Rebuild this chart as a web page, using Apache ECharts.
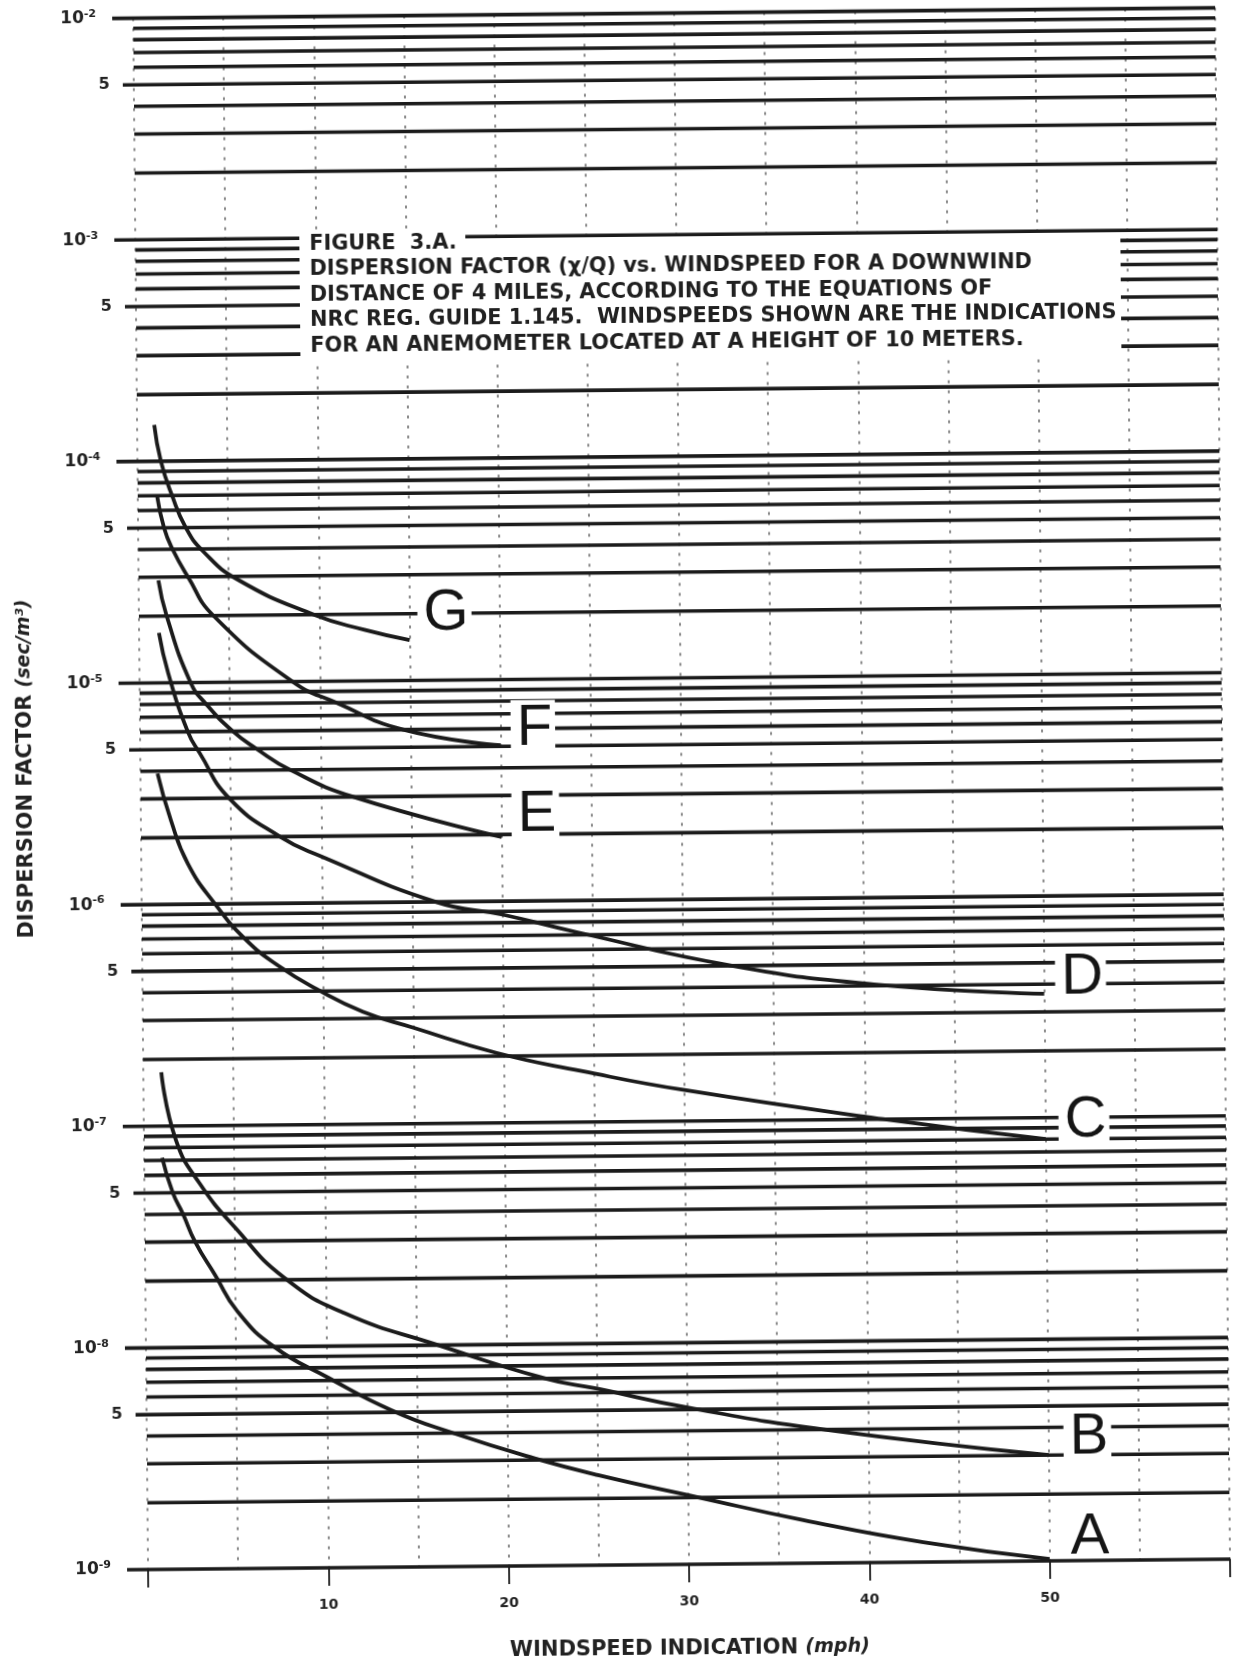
<!DOCTYPE html>
<html>
<head>
<meta charset="utf-8">
<title>Figure 3.A - Dispersion factor vs windspeed</title>
<script src="https://cdn.jsdelivr.net/npm/echarts/dist/echarts.min.js"></script>
<style>
html, body { margin: 0; padding: 0; background: #ffffff; overflow: hidden; }
#chart { width: 1233px; height: 1662px; transform: rotate(-0.55deg); transform-origin: 616.5px 831px; }
</style>
</head>
<body>
<div id="chart"></div>
<script>
// ---------------- data ----------------
const curveNames = ['A', 'B', 'C', 'D', 'E', 'F', 'G'];

const speedA = [1.0, 1.57, 2.13, 2.78, 3.9, 5.09, 7.1, 10.1, 13.6, 17.0, 21.5, 25.0, 30.6, 36.3, 43.0, 50.0];
const chiA   = [7.2e-8, 5.0e-8, 4.0e-8, 3.0e-8, 2.1e-8, 1.45e-8, 1.0e-8, 7.2e-9, 5.1e-9, 4.0e-9, 3.05e-9, 2.55e-9, 2.0e-9, 1.57e-9, 1.23e-9, 1.02e-9];

const speedB = [1.0, 1.76, 3.06, 5.09, 7.69, 11.0, 16.2, 22.1, 25.0, 30.0, 37.6, 50.0];
const chiB   = [1.75e-7, 8.7e-8, 5.5e-8, 3.4e-8, 2.05e-8, 1.41e-8, 1.0e-8, 7.0e-9, 6.26e-9, 5.1e-9, 4.0e-9, 3.0e-9];

const speedC = [0.95, 1.67, 2.59, 4.07, 5.74, 7.59, 9.63, 12.2, 15.0, 19.6, 24.3, 30.0, 41.0, 50.0];
const chiC   = [3.9e-6, 2.39e-6, 1.52e-6, 1.0e-6, 6.9e-7, 5.2e-7, 4.1e-7, 3.22e-7, 2.71e-7, 2.07e-7, 1.7e-7, 1.38e-7, 1.0e-7, 8.0e-8];

const speedD = [1.1, 1.6, 2.65, 3.3, 4.9, 7.7, 10.0, 16.3, 20.0, 24.1, 32.7, 40.7, 50.0];
const chiD   = [1.68e-5, 1.1e-5, 6.0e-6, 4.8e-6, 3.0e-6, 2.0e-6, 1.62e-6, 1.0e-6, 8.7e-7, 7.2e-7, 5.0e-7, 4.05e-7, 3.62e-7];

const speedE = [1.1, 1.54, 2.83, 3.67, 5.15, 6.44, 8.3, 11.8, 20.0];
const chiE   = [2.9e-5, 2.0e-5, 1.0e-5, 8.0e-6, 6.0e-6, 5.0e-6, 4.0e-6, 3.0e-6, 1.95e-6];

const speedF = [1.07, 1.44, 1.9, 2.74, 4.13, 8.48, 10.9, 14.6, 20.0];
const chiF   = [7.0e-5, 5.0e-5, 4.0e-5, 3.0e-5, 2.0e-5, 1.0e-5, 8.0e-6, 6.0e-6, 5.05e-6];

const speedG = [0.95, 1.3, 1.9, 2.65, 3.6, 5.5, 9.7, 12.5, 15.0];
const chiG   = [1.46e-4, 1.0e-4, 7.0e-5, 5.0e-5, 3.9e-5, 2.9e-5, 2.0e-5, 1.7e-5, 1.52e-5];

// axis structure
const xMin = 0, xMax = 60;
const yMin = 1e-9, yMax = 1e-2;
const decadeExps = [-9, -8, -7, -6, -5, -4, -3, -2];
const gridMultipliers = [1, 2, 3, 4, 5, 6, 7, 8, 9];
const xTickLabels = [10, 20, 30, 40, 50];

const titleLines = [
  'FIGURE  3.A.',
  'DISPERSION FACTOR (\u03C7/Q) vs. WINDSPEED FOR A DOWNWIND',
  'DISTANCE OF 4 MILES, ACCORDING TO THE EQUATIONS OF',
  'NRC REG. GUIDE 1.145.  WINDSPEEDS SHOWN ARE THE INDICATIONS',
  'FOR AN ANEMOMETER LOCATED AT A HEIGHT OF 10 METERS.'
];

// ---------------- build ----------------
const speeds = { A: speedA, B: speedB, C: speedC, D: speedD, E: speedE, F: speedF, G: speedG };
const chis   = { A: chiA, B: chiB, C: chiC, D: chiD, E: chiE, F: chiF, G: chiG };

const gridData = [];
decadeExps.forEach(function (e) {
  gridMultipliers.forEach(function (m) {
    if (e === -2 && m > 1) return;
    gridData.push([xMin, Number((m * Math.pow(10, e)).toPrecision(3)), m]);
  });
});

// label styling per curve (offsets relative to the curve end)
const labelStyle = {
  A: { offset: [7, -21], padding: [0, 3, 0, 6], bg: 'transparent' },
  B: { offset: [7, -17], padding: [0, 3, 0, 6], bg: '#ffffff' },
  C: { offset: [5, -18], padding: [0, 3, 0, 6], bg: '#ffffff' },
  D: { offset: [3, -16], padding: [0, 3, 0, 6], bg: '#ffffff' },
  E: { offset: [2, -22], padding: [0, 3, 0, 6], bg: '#ffffff' },
  F: { offset: [2, -16], padding: [12, 3, 0, 6], bg: '#ffffff' },
  G: { offset: [0, -26], padding: [0, 3, 0, 6], bg: '#ffffff' }
};

const INK = '#1b1b1b';

const lineSeries = curveNames.map(function (n) {
  const data = speeds[n].map(function (x, i) { return [x, chis[n][i]]; });
  return {
    type: 'line',
    name: n,
    data: data,
    xAxisIndex: 0,
    yAxisIndex: 0,
    smooth: 0.5,
    symbol: 'none',
    z: 5,
    lineStyle: { color: INK, width: 3.8 },
    endLabel: {
      show: true,
      formatter: '{a}',
      color: '#151515',
      fontFamily: 'Liberation Sans',
      fontSize: 58,
      lineHeight: 46,
      fontWeight: 'normal',
      backgroundColor: labelStyle[n].bg,
      padding: labelStyle[n].padding,
      offset: labelStyle[n].offset,
      distance: 8
    }
  };
});

const gridSeries = {
  type: 'custom',
  name: 'grid',
  coordinateSystem: 'cartesian2d',
  xAxisIndex: 0,
  yAxisIndex: 0,
  clip: false,
  silent: true,
  z: 1,
  encode: { x: 0, y: 1 },
  data: gridData,
  renderItem: function (params, api) {
    const v = api.value(1);
    const m = api.value(2);
    const p0 = api.coord([xMin, v]);
    const p1 = api.coord([xMax, v]);
    const ext = m === 1 ? 21 : (m === 5 ? 11 : 0);
    const children = [{
      type: 'line',
      shape: { x1: p0[0] - ext, y1: p0[1], x2: p1[0], y2: p1[1] },
      style: { stroke: INK, lineWidth: 3.6 }
    }];
    if (m === 5) {
      children.push({
        type: 'text',
        style: {
          text: '5', x: p0[0] - 24, y: p0[1],
          align: 'right', verticalAlign: 'middle',
          font: 'bold 16px "DejaVu Sans"', fill: '#222'
        }
      });
    }
    return { type: 'group', children: children };
  }
};

const textFont = 'bold 20.8px "DejaVu Sans"';
const graphicEls = [
  { type: 'rect', z: 50, shape: { x: 305, y: 230, width: 166, height: 11 }, style: { fill: '#ffffff' } },
  { type: 'rect', z: 50, shape: { x: 305, y: 241, width: 821, height: 116 }, style: { fill: '#ffffff' } }
];
const lineCenters = [241.5, 267, 292.5, 318, 343.5];
titleLines.forEach(function (t, i) {
  graphicEls.push({
    type: 'text', z: 51, x: 315, y: lineCenters[i],
    style: { text: t, font: textFont, fill: '#202020', verticalAlign: 'middle', align: 'left' }
  });
});

const option = {
  animation: false,
  backgroundColor: '#ffffff',
  grid: { left: 141, right: 10, top: 13.6, bottom: 97, containLabel: false, outerBoundsMode: 'none' },
  xAxis: [
    {
      type: 'value', min: xMin, max: xMax, interval: 5, position: 'top',
      axisLine: { show: false }, axisTick: { show: false }, axisLabel: { show: false },
      splitLine: { show: true, lineStyle: { color: '#6e6e6e', width: 1.6, type: [3, 7] } }
    },
    {
      type: 'value', min: xMin, max: xMax, interval: 10, position: 'bottom',
      axisLine: { show: false },
      axisTick: { show: true, length: 18, lineStyle: { color: '#333', width: 2 } },
      splitLine: { show: false },
      axisLabel: {
        margin: 30, color: '#222', fontFamily: 'DejaVu Sans', fontWeight: 'bold', fontSize: 14,
        formatter: function (v) { return xTickLabels.indexOf(v) >= 0 ? String(v) : ''; }
      },
      name: 'WINDSPEED INDICATION {u|(mph)}',
      nameLocation: 'middle',
      nameGap: 74,
      nameTextStyle: {
        fontFamily: 'DejaVu Sans', fontWeight: 'bold', fontSize: 21, color: '#222',
        rich: { u: { fontFamily: 'DejaVu Sans', fontStyle: 'italic', fontWeight: 'bold', fontSize: 19, color: '#222' } }
      }
    }
  ],
  yAxis: {
    type: 'log', logBase: 10, min: yMin, max: yMax,
    axisLine: { show: false }, axisTick: { show: false }, splitLine: { show: false },
    axisLabel: {
      margin: 37,
      formatter: function (v) {
        const e = Math.round(Math.log10(v));
        return '{b|10}{s|' + e + '}';
      },
      rich: {
        b: { fontFamily: 'DejaVu Sans', fontWeight: 'bold', fontSize: 17, color: '#222', lineHeight: 20, verticalAlign: 'middle' },
        s: { fontFamily: 'DejaVu Sans', fontWeight: 'bold', fontSize: 11, color: '#222', lineHeight: 12, verticalAlign: 'top' }
      }
    },
    name: 'DISPERSION FACTOR {u|(sec/m\u00B3)}',
    nameLocation: 'middle',
    nameGap: 104,
    nameTextStyle: {
      fontFamily: 'DejaVu Sans', fontWeight: 'bold', fontSize: 21, color: '#222',
      padding: [0, 0, 0, 52],
      rich: { u: { fontFamily: 'DejaVu Sans', fontStyle: 'italic', fontSize: 19, color: '#222' } }
    }
  },
  graphic: { elements: graphicEls },
  series: [gridSeries].concat(lineSeries)
};

const chart = echarts.init(document.getElementById('chart'), null, { renderer: 'canvas' });
chart.setOption(option);
</script>
</body>
</html>
